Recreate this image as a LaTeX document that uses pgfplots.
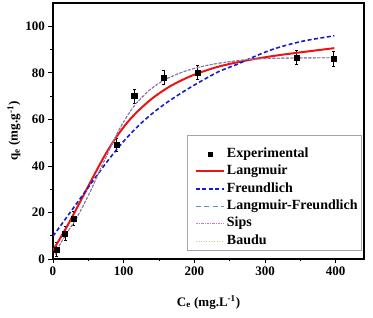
\documentclass[border=0pt]{standalone}
\usepackage{pgfplots}
\pgfplotsset{compat=1.18}
\usepackage{fontspec}
\setmainfont{Liberation Serif}
\definecolor{lred}{RGB}{235,20,20}
\definecolor{fblue}{RGB}{20,30,200}
\definecolor{lfteal}{RGB}{90,150,180}
\definecolor{sipsc}{RGB}{150,95,175}
\definecolor{sipsleg}{RGB}{205,120,190}
\definecolor{baudu}{RGB}{205,200,150}
\pgfplotsset{
  lineleg/.style={legend image code/.code={\path (0pt,0pt); \draw[##1] (6pt,0pt) -- (34pt,0pt);}},
  markleg/.style={legend image code/.code={\path (0pt,0pt) (34pt,0pt); \draw[##1] plot coordinates {(20pt,0pt)};}},
}
\begin{document}
\begin{tikzpicture}
\begin{axis}[
  width=311pt, height=256pt, scale only axis,
  xmin=0, xmax=440, ymin=0, ymax=110,
  xtick={0,100,200,300,400}, ytick={0,20,40,60,80,100},
  minor x tick num=1, minor y tick num=1,
  tick align=outside, tick pos=left,
  major tick length=4.5pt, minor tick length=2.5pt,
  every tick/.style={black, line width=0.8pt},
  axis line style={line width=1.2pt},
  tick label style={font=\fontsize{13}{15}\selectfont\bfseries},
  /pgf/number format/assume math mode=true,
  xlabel={\bfseries C\textsubscript{e} (mg.L\textsuperscript{-1})},
  ylabel={\bfseries q\textsubscript{e} (mg.g\textsuperscript{-1})},
  label style={font=\fontsize{13}{15}\selectfont},
  xlabel style={yshift=-13pt},
  ylabel style={yshift=-2pt},
  legend style={at={(0.993,0.033)}, anchor=south east, draw=gray!70,
    font=\fontsize{14}{15}\selectfont\bfseries, row sep=0.6pt, column sep=0pt,
    inner xsep=2pt, inner ysep=1pt,
    nodes={text height=9.8pt, text depth=3pt},
    cells={anchor=west}},
  legend cell align=left,
]
\addlegendimage{empty legend}
\addlegendentry[text height=4.5pt, text depth=0pt]{}
\addplot[only marks, mark=square*, mark size=2.6pt, black, forget plot,
  error bars/.cd, y dir=both, y explicit, error bar style={line width=0.9pt}, error mark options={rotate=90, mark size=1.5pt, line width=0.9pt}]
  coordinates {
  (5,4) +- (0,3)
  (17,11) +- (0,3)
  (29.5,17.3) +- (0,3)
  (90,49) +- (0,3)
  (115,70) +- (0,3)
  (157,78) +- (0,3)
  (205,80) +- (0,3)
  (345,86.6) +- (0,3.2)
  (397,86) +- (0,3.2)
  };
\addlegendimage{markleg, only marks, mark=square*, mark size=2.2pt, black}
\addlegendentry{Experimental}
\addplot[lred, line width=2pt, smooth, lineleg] coordinates {
  (0,3.7) (20,14.1) (40,25.5) (60,37.1) (75,45.4) (90,52.6) (105,58.6)
  (120,63.5) (140,68.9) (165,74.1) (195,78.6) (230,82.3) (270,85.1)
  (320,87.6) (398,90.6)};
\addlegendentry{Langmuir}
\addplot[fblue, line width=1.6pt, dash pattern=on 4pt off 2.5pt, smooth, lineleg] coordinates {
  (0,9.8) (20,18.2) (40,26.6) (60,35) (80,43.2) (100,50.6) (120,57) (140,62.4)
  (160,67) (185,72) (210,76.5) (235,80.6) (260,83.6) (285,87.0) (310,90.0)
  (335,92.25) (360,94.0) (398,95.9)};
\addlegendentry{Freundlich}
\addplot[lfteal, line width=0.9pt, dash pattern=on 3pt off 1.5pt, smooth, forget plot] coordinates {
  (3,2) (10,6.3) (20,11.3) (30,16) (40,21.3) (54,29.8) (65,37.2) (78,45.8)
  (90,53.5) (100,59) (113.6,65.3) (130,70.8) (145,74.5) (161,77.5) (185,80.5)
  (208,82.5) (230,83.9) (255,85) (280,85.8) (310,86.2) (350,86.4) (398,86.5)};
\addlegendimage{lineleg, lfteal, line width=0.9pt, dash pattern=on 5pt off 3.5pt}
\addlegendentry{Langmuir-Freundlich}
\addplot[sipsc, line width=0.9pt, dash pattern=on 3pt off 1.5pt, smooth, forget plot] coordinates {
  (3,2) (10,6.3) (20,11.3) (30,16) (40,21.3) (54,29.8) (65,37.2) (78,45.8)
  (90,53.5) (100,59) (113.6,65.3) (130,70.8) (145,74.5) (161,77.5) (185,80.5)
  (208,82.5) (230,83.9) (255,85) (280,85.8) (310,86.2) (350,86.4) (398,86.5)};
\addlegendimage{lineleg, sipsleg, line width=0.7pt, dash pattern=on 2.5pt off 1pt on 1pt off 1pt}
\addlegendentry{Sips}
\addplot[baudu, line width=0.6pt, dotted, smooth, lineleg] coordinates {
  (3,2) (10,6.3) (20,11.3) (30,16) (40,21.3) (54,29.8) (65,37.2) (78,45.8)
  (90,53.5) (100,59) (113.6,65.3) (130,70.8) (145,74.5) (161,77.5) (185,80.5)
  (208,82.5) (230,83.9) (255,85) (280,85.8) (310,86.2) (350,86.4) (398,86.5)};
\addlegendentry{Baudu}
\end{axis}
\path (current axis.south west) ++(-53pt,-59pt);
\path (current axis.north east) ++(9pt,3pt);
\end{tikzpicture}
\end{document}
